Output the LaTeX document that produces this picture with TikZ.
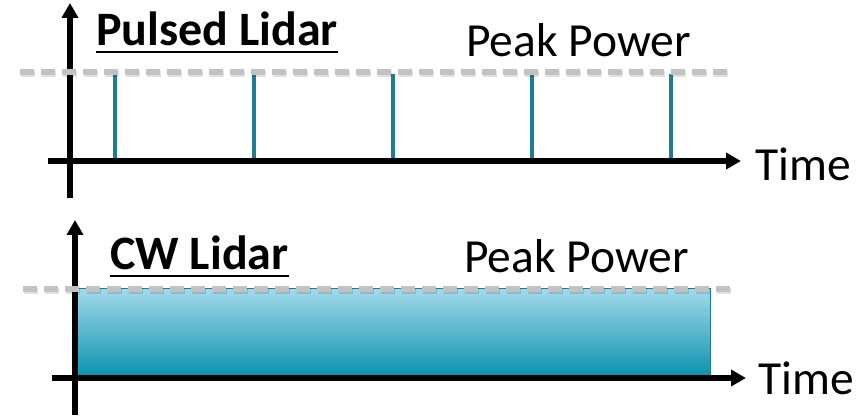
\documentclass[tikz,border=0pt]{standalone}
\usepackage{fontspec}
\setmainfont{Carlito}
\usetikzlibrary{arrows.meta}
\definecolor{pulsecol}{HTML}{1B7F91}
\definecolor{peakcol}{HTML}{C2C2C2}
\definecolor{cwtop}{HTML}{A3D9EB}
\definecolor{cwbot}{HTML}{0891AC}
\begin{document}
\begin{tikzpicture}[x=1pt,y=-1pt,
    axis/.style={line width=5.5pt,-{Triangle[length=15pt,width=16pt]}},
    peakline/.style={peakcol,line width=6pt,dash pattern=on 14pt off 7pt},
    peakshadow/.style={black,opacity=0.12,line width=6pt,dash pattern=on 14pt off 7pt},
    pulseline/.style={pulsecol,line width=4.5pt},
    heading/.style={font=\fontsize{48}{48}\selectfont\bfseries,anchor=base west,inner sep=0pt},
    tag/.style={font=\fontsize{47.5}{47.5}\selectfont,anchor=base west,inner sep=0pt},
    uline/.style={line width=2.5pt}]
  \useasboundingbox (0,0) rectangle (863,419);
  % pulsed lidar
  \coordinate (p1top) at (115,74);  \coordinate (p1bot) at (115,161);
  \coordinate (p2top) at (254,74);  \coordinate (p2bot) at (254,161);
  \coordinate (p3top) at (393,74);  \coordinate (p3bot) at (393,161);
  \coordinate (p4top) at (532,74);  \coordinate (p4bot) at (532,161);
  \coordinate (p5top) at (671,74);  \coordinate (p5bot) at (671,161);
  \draw[pulseline] (p1bot) -- (p1top);
  \draw[pulseline] (p2bot) -- (p2top);
  \draw[pulseline] (p3bot) -- (p3top);
  \draw[pulseline] (p4bot) -- (p4top);
  \draw[pulseline] (p5bot) -- (p5top);
  \coordinate (ya1) at (70,198);  \coordinate (yb1) at (70,3);
  \coordinate (xa1) at (48,161);  \coordinate (xb1) at (741,161);
  \draw[axis] (ya1) -- (yb1);
  \draw[axis] (xa1) -- (xb1);
  \coordinate (pk1a) at (20,72);  \coordinate (pk1b) at (728,72);
  \draw[peakshadow] ([shift={(1pt,-2pt)}]pk1a) -- ([shift={(1pt,-2pt)}]pk1b);
  \draw[peakline] (pk1a) -- (pk1b);
  \node[heading] (pulsed) at (96,46) {Pulsed Lidar};
  \draw[uline] ([yshift=-6pt]pulsed.base west) -- ([yshift=-6pt]pulsed.base east);
  \node[tag] (peak1) at (466,57) {Peak Power};
  \node[tag] (time1) at (755,181) {Time};
  % cw lidar
  \coordinate (cwa) at (75,289);  \coordinate (cwb) at (710,378);
  \draw[pulsecol,line width=1pt,top color=cwtop,bottom color=cwbot] (cwa) rectangle (cwb);
  \coordinate (ya2) at (75,415);  \coordinate (yb2) at (75,220);
  \coordinate (xa2) at (52,378);  \coordinate (xb2) at (746,378);
  \draw[axis] (ya2) -- (yb2);
  \draw[axis] (xa2) -- (xb2);
  \coordinate (pk2a) at (23,289);  \coordinate (pk2b) at (731,289);
  \draw[peakshadow] ([shift={(1pt,-2pt)}]pk2a) -- ([shift={(1pt,-2pt)}]pk2b);
  \draw[peakline] (pk2a) -- (pk2b);
  \node[heading] (cw) at (110,270) {CW Lidar};
  \draw[uline] ([yshift=-6pt]cw.base west) -- ([yshift=-6pt]cw.base east);
  \node[tag] (peak2) at (464,273) {Peak Power};
  \node[tag] (time2) at (758,395) {Time};
\end{tikzpicture}
\end{document}
